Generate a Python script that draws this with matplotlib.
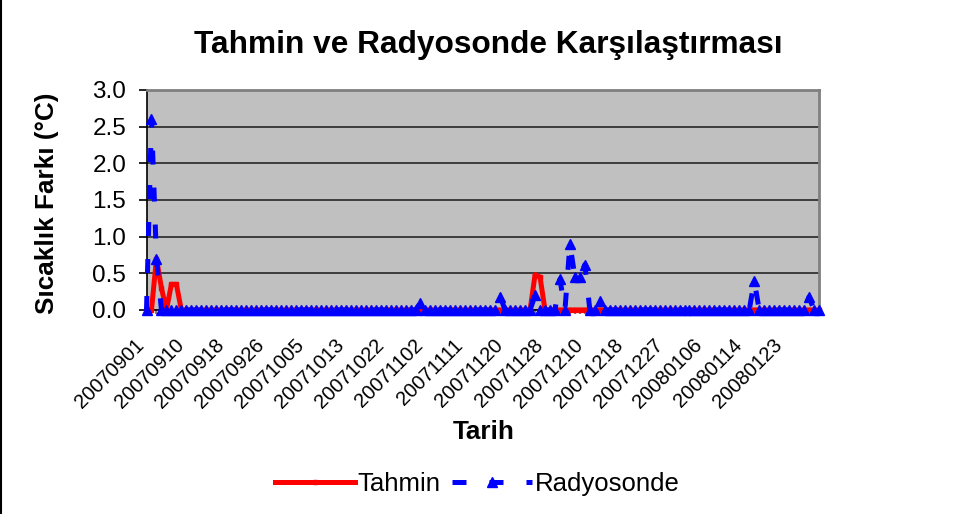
import numpy as np
import matplotlib.pyplot as plt
from matplotlib.lines import Line2D
from matplotlib.transforms import ScaledTranslation

# kategori sayisi (gunluk kayitlar, bazi gunler eksik)
n_points = 136
tick_labels = ['20070901', '20070910', '20070918', '20070926', '20071005',
               '20071013', '20071022', '20071102', '20071111', '20071120',
               '20071128', '20071210', '20071218', '20071227', '20080106',
               '20080114', '20080123']
label_step = 8

# sifir olmayan degerler (indeks, deger)
tahmin_idx = [2, 3, 5, 6, 78, 79]
tahmin_val = [0.7, 0.3, 0.35, 0.35, 0.48, 0.45]
radyo_idx = [1, 2, 55, 71, 78, 83, 85, 86, 87, 88, 91, 122, 133]
radyo_val = [2.6, 0.7, 0.1, 0.18, 0.2, 0.42, 0.9, 0.45, 0.45, 0.62, 0.12, 0.4, 0.18]

tahmin = np.zeros(n_points)
tahmin[tahmin_idx] = tahmin_val
radyo = np.zeros(n_points)
radyo[radyo_idx] = radyo_val

plt.rcParams['font.family'] = ['Liberation Sans', 'DejaVu Sans']
# sifir noktalarindaki isaretler kaybolmasin
plt.rcParams['path.simplify'] = False

fig = plt.figure(figsize=(9.6, 5.14), dpi=100)
ax = fig.add_axes([146.5 / 960, 1 - 310 / 514, (819 - 146.5) / 960, 220 / 514])
ax.set_facecolor('#C0C0C0')

x = np.arange(n_points)
ax.plot(x, tahmin, color='#FF0000', lw=3.6, marker='s', ms=3,
        label='Tahmin', clip_on=False, zorder=3)
ax.plot(x, radyo, color='#0000FF', lw=3.6, ls=(0, (2.8, 4.6)), marker='^', ms=7.5,
        label='Radyosonde', clip_on=False, zorder=4)

ax.set_xlim(0, n_points - 1)
ax.set_ylim(0, 3)
ax.set_yticks(np.arange(0, 3.01, 0.5))
ax.set_yticklabels([f'{v:.1f}' for v in np.arange(0, 3.01, 0.5)])
ax.yaxis.grid(True, color='#333333', lw=1.3)
ax.set_axisbelow(True)

ax.set_xticks(np.arange(0, n_points, label_step)[:len(tick_labels)])
ax.set_xticklabels(tick_labels)
ax.set_xticks(x, minor=True)
ax.tick_params(axis='x', which='both', length=3, width=1.5, color='#808080',
               labelsize=14.5, pad=20)
ax.tick_params(axis='y', length=6, width=1.2, color='black', labelsize=17.5, pad=8.5)
shift = ScaledTranslation(-5 / 100, 0, fig.dpi_scale_trans)
for lbl in ax.get_xticklabels():
    lbl.set_rotation(45)
    lbl.set_ha('right')
    lbl.set_va('center')
    lbl.set_rotation_mode('anchor')
    lbl.set_transform(lbl.get_transform() + shift)

# cerceve
ax.spines['top'].set_color('#808080')
ax.spines['right'].set_color('#808080')
ax.spines['top'].set_linewidth(2)
ax.spines['right'].set_linewidth(2)
ax.spines['left'].set_linewidth(1.2)
ax.spines['bottom'].set_linewidth(1.2)

fig.text(488 / 960, 1 - 45 / 514, 'Tahmin ve Radyosonde Karşılaştırması',
         ha='center', va='center', fontsize=22.8, fontweight='bold')
fig.text(47.5 / 960, 1 - 203 / 514, 'Sıcaklık Farkı (°C)', rotation=90,
         ha='center', va='center', fontsize=18.8, fontweight='bold')
fig.text(483.5 / 960, 1 - 432 / 514, 'Tarih', ha='center', va='center',
         fontsize=18.8, fontweight='bold')

fig.legend(loc='center', bbox_to_anchor=(477.5 / 960, 1 - 484 / 514), ncol=2,
           frameon=False, fontsize=18.5, handlelength=3.1, handletextpad=0.12,
           columnspacing=0.45)

# sol kenar cizgisi
fig.add_artist(Line2D([0.001, 0.001], [0, 1], transform=fig.transFigure,
                      color='black', lw=1.5))

fig.savefig('out.png', dpi=100)
